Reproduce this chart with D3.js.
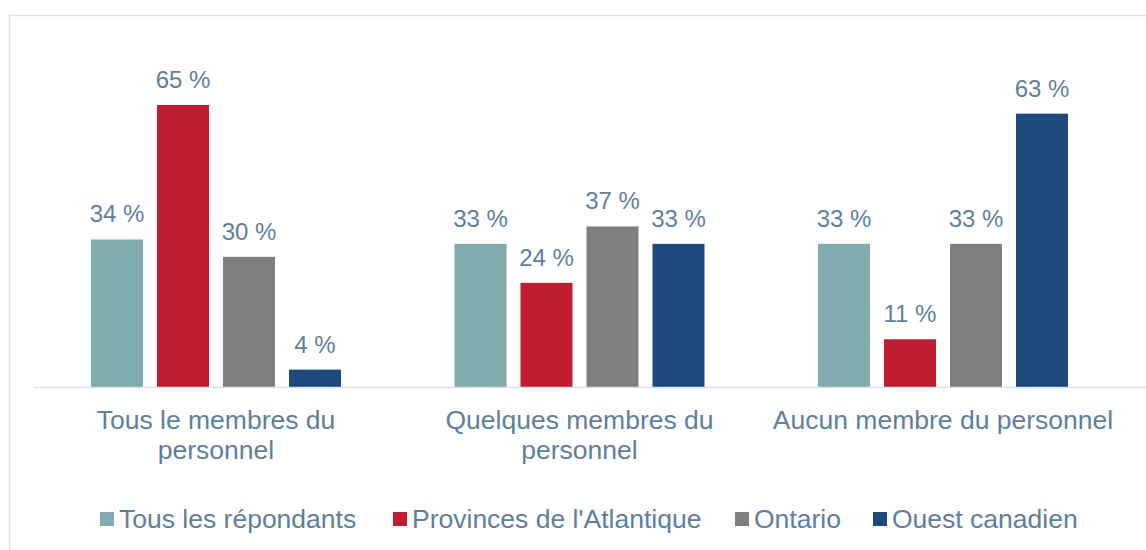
<!DOCTYPE html>
<html>
<head>
<meta charset="utf-8">
<script src="https://cdn.jsdelivr.net/npm/d3@7"></script>
<style>
  body { margin: 0; background: #fff; }
  svg { font-family: "Liberation Sans", Arial, sans-serif; }
</style>
</head>
<body>
<div id="chart"></div>
<script>
// categories (x axis), with line breaks as in the original
const categories = ["Tous le membres du|personnel", "Quelques membres du|personnel", "Aucun membre du personnel"];
const series = ["Tous les répondants", "Provinces de l'Atlantique", "Ontario", "Ouest canadien"];
const colors = ["#7faaae", "#be1e2d", "#7f7f7f", "#1f487c"];

const tousRepondants = [34, 33, 33];
const atlantique = [65, 24, 11];
const ontario = [30, 37, 33];
const ouest = [4, 33, 63];

const values = [tousRepondants, atlantique, ontario, ouest];
const textColor = "#5d7f9b";

const W = 1146, H = 550;
const svg = d3.select("#chart").append("svg")
  .attr("width", W).attr("height", H);

// border of the chart area
svg.append("rect")
  .attr("x", 9.5).attr("y", 15.5)
  .attr("width", W + 20).attr("height", H + 20)
  .attr("fill", "none").attr("stroke", "#d9e2ec").attr("stroke-width", 1.5);

const baseY = 387;

const x0 = d3.scaleBand()
  .domain(categories)
  .range([34.25, 1124.75]);

const groupW = 250;
const x1 = d3.scaleBand()
  .domain(series)
  .range([0, groupW])
  .paddingInner(0.212);

const y = d3.scaleLinear()
  .domain([0, 65])
  .range([baseY, 105]);

const rows = [];
categories.forEach((c, i) => {
  series.forEach((s, j) => rows.push({ cat: c, ser: s, v: values[j][i], col: colors[j] }));
});

const off = (x0.bandwidth() - groupW) / 2;

svg.selectAll(".bar")
  .data(rows)
  .enter().append("rect")
  .attr("class", "bar")
  .attr("x", d => x0(d.cat) + off + x1(d.ser))
  .attr("y", d => y(d.v))
  .attr("width", x1.bandwidth())
  .attr("height", d => baseY - y(d.v))
  .attr("fill", d => d.col);

svg.selectAll(".lbl")
  .data(rows)
  .enter().append("text")
  .attr("class", "lbl")
  .attr("x", d => x0(d.cat) + off + x1(d.ser) + x1.bandwidth() / 2)
  .attr("y", d => y(d.v) - 17)
  .attr("text-anchor", "middle")
  .attr("font-size", 24)
  .attr("fill", textColor)
  .text(d => d.v + " %");

// x axis line
svg.append("line")
  .attr("x1", 34).attr("x2", W)
  .attr("y1", baseY + 0.5).attr("y2", baseY + 0.5)
  .attr("stroke", "#d9e2ec").attr("stroke-width", 1.5);

// category labels
const cl = svg.selectAll(".cat")
  .data(categories)
  .enter().append("text")
  .attr("class", "cat")
  .attr("text-anchor", "middle")
  .attr("font-size", 26.5)
  .attr("fill", textColor)
  .attr("x", d => x0(d) + x0.bandwidth() / 2)
  .attr("y", 428.5);
cl.selectAll("tspan")
  .data(d => d.split("|").map((t, k) => ({ t, k, c: d })))
  .enter().append("tspan")
  .attr("x", d => x0(d.c) + x0.bandwidth() / 2)
  .attr("dy", d => d.k === 0 ? 0 : 30)
  .text(d => d.t);

// legend
const legX = [100, 393, 735, 873];
const leg = svg.selectAll(".leg")
  .data(series)
  .enter().append("g")
  .attr("class", "leg")
  .attr("transform", (d, i) => `translate(${legX[i]},512)`);
leg.append("rect")
  .attr("width", 14).attr("height", 14)
  .attr("fill", (d, i) => colors[i]);
leg.append("text")
  .attr("x", 19).attr("y", 16)
  .attr("font-size", 26.5)
  .attr("fill", textColor)
  .text(d => d);
</script>
</body>
</html>
